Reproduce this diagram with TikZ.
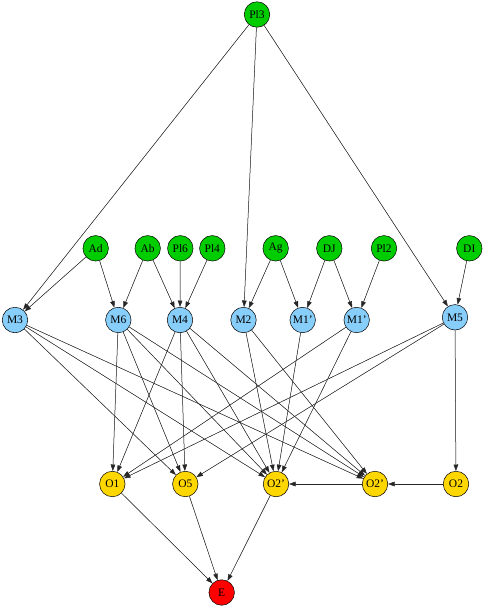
\documentclass[tikz,border=0pt]{standalone}
\usepackage{fontspec}
\setmainfont{Liberation Serif}
\usetikzlibrary{arrows.meta}
\definecolor{gnode}{HTML}{00CD00}
\definecolor{bnode}{HTML}{87CEFA}
\definecolor{ynode}{HTML}{FFD700}
\definecolor{rnode}{HTML}{FF0000}
\begin{document}
\begin{tikzpicture}[x=1pt,y=-1pt,
  nd/.style={circle,draw=black,line width=0.5pt,minimum size=25.5pt,inner sep=0pt,
    font=\fontsize{11.5}{13}\selectfont},
  gn/.style={nd,fill=gnode},
  bn/.style={nd,fill=bnode},
  yn/.style={nd,fill=ynode},
  rn/.style={nd,fill=rnode},
  ed/.style={-{Triangle[length=6.5pt,width=4.6pt]},line width=0.5pt,draw=black!85,fill=black}]
\useasboundingbox (0,0) rectangle (484,606);
% top
\node[gn] (Pl3) at (257,14.5) {Pl3};
\node[gn] (Ad) at (95.7,248.3) {Ad};
\node[gn] (Ab) at (147.7,248.3) {Ab};
\node[gn] (Pl6) at (180.3,248.3) {Pl6};
\node[gn] (Pl4) at (212.3,248.3) {Pl4};
\node[gn] (Ag) at (275.7,248.3) {Ag};
\node[gn] (DJ) at (329.3,248.3) {DJ};
\node[gn] (Pl2) at (384,248.3) {Pl2};
\node[gn] (DI) at (469.3,248.3) {DI};
% middle
\node[bn] (M3) at (15,320) {M3};
\node[bn] (M6) at (118.3,320) {M6};
\node[bn] (M4) at (180,320) {M4};
\node[bn] (M2) at (243.5,320) {M2};
\node[bn] (M1a) at (302.7,320) {M1'};
\node[bn] (M1b) at (356.7,320) {M1'};
\node[bn] (M5) at (455,317.3) {M5};
% bottom
\node[yn] (O1) at (112.3,484) {O1};
\node[yn] (O5) at (185.3,484) {O5};
\node[yn] (O2a) at (276,484) {O2'};
\node[yn] (O2b) at (375,484) {O2'};
\node[yn] (O2) at (456,484) {O2};
\node[rn] (E) at (221.7,592.5) {E};
% edges top
\foreach \a/\b in {Pl3/M3,Pl3/M2,Pl3/M5,Ad/M3,Ad/M6,Ab/M6,Ab/M4,Pl6/M4,Pl4/M4,
  Ag/M2,Ag/M1a,DJ/M1a,DJ/M1b,Pl2/M1b,DI/M5}
  \draw[ed] (\a) -- (\b);
% edges middle
\foreach \a/\b in {M3/O5,M3/O2a,M3/O2b,M6/O1,M6/O5,M6/O2a,M6/O2b,
  M4/O1,M4/O5,M4/O2a,M4/O2b,M2/O2a,M2/O2b,M1a/O2a,M1b/O1,M1b/O2a,
  M5/O1,M5/O5,M5/O2}
  \draw[ed] (\a) -- (\b);
% edges bottom
\foreach \a/\b in {O2/O2b,O2b/O2a,O1/E,O5/E,O2a/E}
  \draw[ed] (\a) -- (\b);
\end{tikzpicture}
\end{document}
